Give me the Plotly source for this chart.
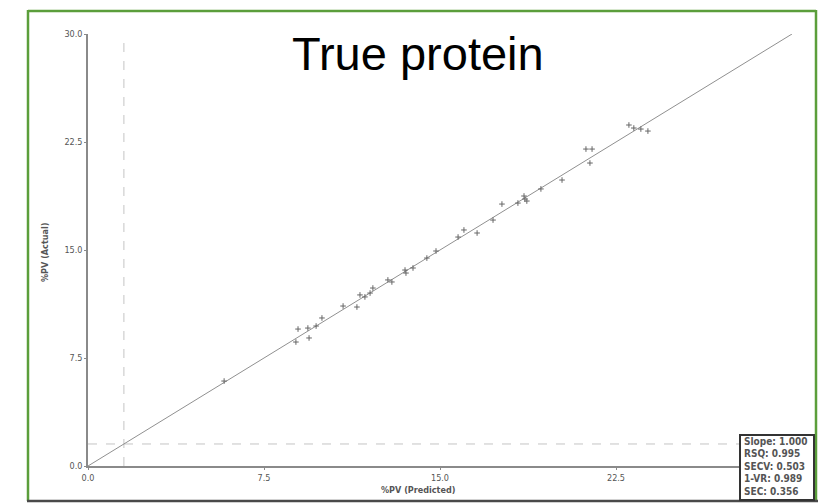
import plotly.graph_objects as go

# Calibration data: predicted vs. actual true protein (%PV)
predicted = [5.80, 8.86, 8.95, 9.37, 9.42, 9.72, 9.97, 10.87, 11.46, 11.59, 11.80,
             12.02, 12.14, 12.78, 12.95, 13.51, 13.55, 13.85, 14.44, 14.83, 15.77,
             16.02, 16.58, 17.26, 17.64, 18.32, 18.58, 18.62, 18.70, 19.30, 20.20,
             21.22, 21.48, 21.39, 23.05, 23.26, 23.56, 23.86]
actual = [5.90, 8.61, 9.51, 9.58, 8.89, 9.72, 10.28, 11.11, 11.04, 11.88, 11.74,
          12.01, 12.36, 12.92, 12.78, 13.61, 13.40, 13.75, 14.44, 14.93, 15.90,
          16.39, 16.18, 17.08, 18.19, 18.26, 18.75, 18.54, 18.40, 19.24, 19.86,
          22.01, 22.01, 21.04, 23.68, 23.47, 23.40, 23.26]

fit_x = [0.0, 30.0]
fit_y = [0.0, 30.0]
cutoff = 1.53

y_tick_vals = [0.0, 7.5, 15.0, 22.5, 30.0]
y_tick_text = ["0.0", "7.5", "15.0", "22.5", "30.0"]
x_tick_vals = [0.0, 7.5, 15.0, 22.5]
x_tick_text = ["0.0", "7.5", "15.0", "22.5"]

stats_lines = ["Slope: 1.000", "RSQ: 0.995", "SECV: 0.503", "1-VR: 0.989", "SEC: 0.356"]

W, H = 818, 503
L, R, T, B = 88, 26, 34, 37
PW, PH = W - L - R, H - T - B


def px(x):
    return (x - L) / PW


def py(y):
    return (H - B - y) / PH


small_font = dict(family="Liberation Sans Narrow, DejaVu Sans Condensed, Arial Narrow, sans-serif",
                  size=9, color="#555")

fig = go.Figure()

fig.add_trace(go.Scatter(x=fit_x, y=fit_y, mode="lines",
                         line=dict(color="#909090", width=1), showlegend=False,
                         hoverinfo="skip"))
fig.add_trace(go.Scatter(x=predicted, y=actual, mode="markers",
                         marker=dict(symbol="cross-thin", size=4,
                                     line=dict(color="#666", width=1)),
                         showlegend=False))

# limit lines
fig.add_shape(type="line", x0=cutoff, x1=cutoff, y0=0, y1=30, xref="x", yref="y",
              line=dict(color="#c4c4c4", width=1, dash="dash"), layer="below")
fig.add_shape(type="line", x0=0, x1=30, y0=cutoff, y1=cutoff, xref="x", yref="y",
              line=dict(color="#c4c4c4", width=1, dash="dash"), layer="below")

# outer frame
fig.add_shape(type="line", xref="paper", yref="paper", x0=px(28), x1=px(816), y0=py(11), y1=py(11),
              line=dict(color="#5b9e3b", width=2.5))
fig.add_shape(type="line", xref="paper", yref="paper", x0=px(28), x1=px(28), y0=py(10), y1=py(501),
              line=dict(color="#5b9e3b", width=2.5))
fig.add_shape(type="line", xref="paper", yref="paper", x0=px(816), x1=px(816), y0=py(10), y1=py(501),
              line=dict(color="#5b9e3b", width=2.5))
fig.add_shape(type="line", xref="paper", yref="paper", x0=px(27), x1=px(818), y0=py(501), y1=py(501),
              line=dict(color="#4a4a4a", width=2.5))

# statistics box
fig.add_shape(type="rect", xref="paper", yref="paper", x0=px(740), x1=px(814), y0=py(435), y1=py(500),
              line=dict(color="#333", width=2), fillcolor="white", layer="above")
for i, s in enumerate(stats_lines):
    fig.add_annotation(text="<b>" + s + "</b>", xref="paper", yref="paper",
                       x=px(742), y=py(441 + i * 12.5), xanchor="left", yanchor="middle",
                       showarrow=False, font=dict(family=small_font["family"], size=10, color="#555"))

fig.add_annotation(text="True protein", xref="paper", yref="paper", x=px(418), y=py(54),
                   xanchor="center", yanchor="middle", showarrow=False,
                   font=dict(family="Liberation Sans, Arial, sans-serif", size=47, color="black"))

fig.add_annotation(text="<b>%PV (Predicted)</b>", xref="paper", yref="paper", x=px(418), y=py(490),
                   xanchor="center", yanchor="middle", showarrow=False, font=small_font)
fig.add_annotation(text="<b>%PV (Actual)</b>", xref="paper", yref="paper", x=px(45), y=py(253),
                   xanchor="center", yanchor="middle", showarrow=False, textangle=-90, font=small_font)

axis_common = dict(range=[0, 30], showgrid=False,
                   zeroline=False, showline=True, linecolor="#8a8a8a", linewidth=1.5,
                   ticks="outside", ticklen=2, tickcolor="#8a8a8a", tickfont=small_font)

fig.update_xaxes(**axis_common, tickvals=x_tick_vals, ticktext=x_tick_text, ticklabelstandoff=0)
fig.update_yaxes(**axis_common, tickvals=y_tick_vals, ticktext=y_tick_text)

fig.update_layout(width=W, height=H, margin=dict(l=L, r=R, t=T, b=B),
                  plot_bgcolor="white", paper_bgcolor="white")

fig.write_html("out.html")
